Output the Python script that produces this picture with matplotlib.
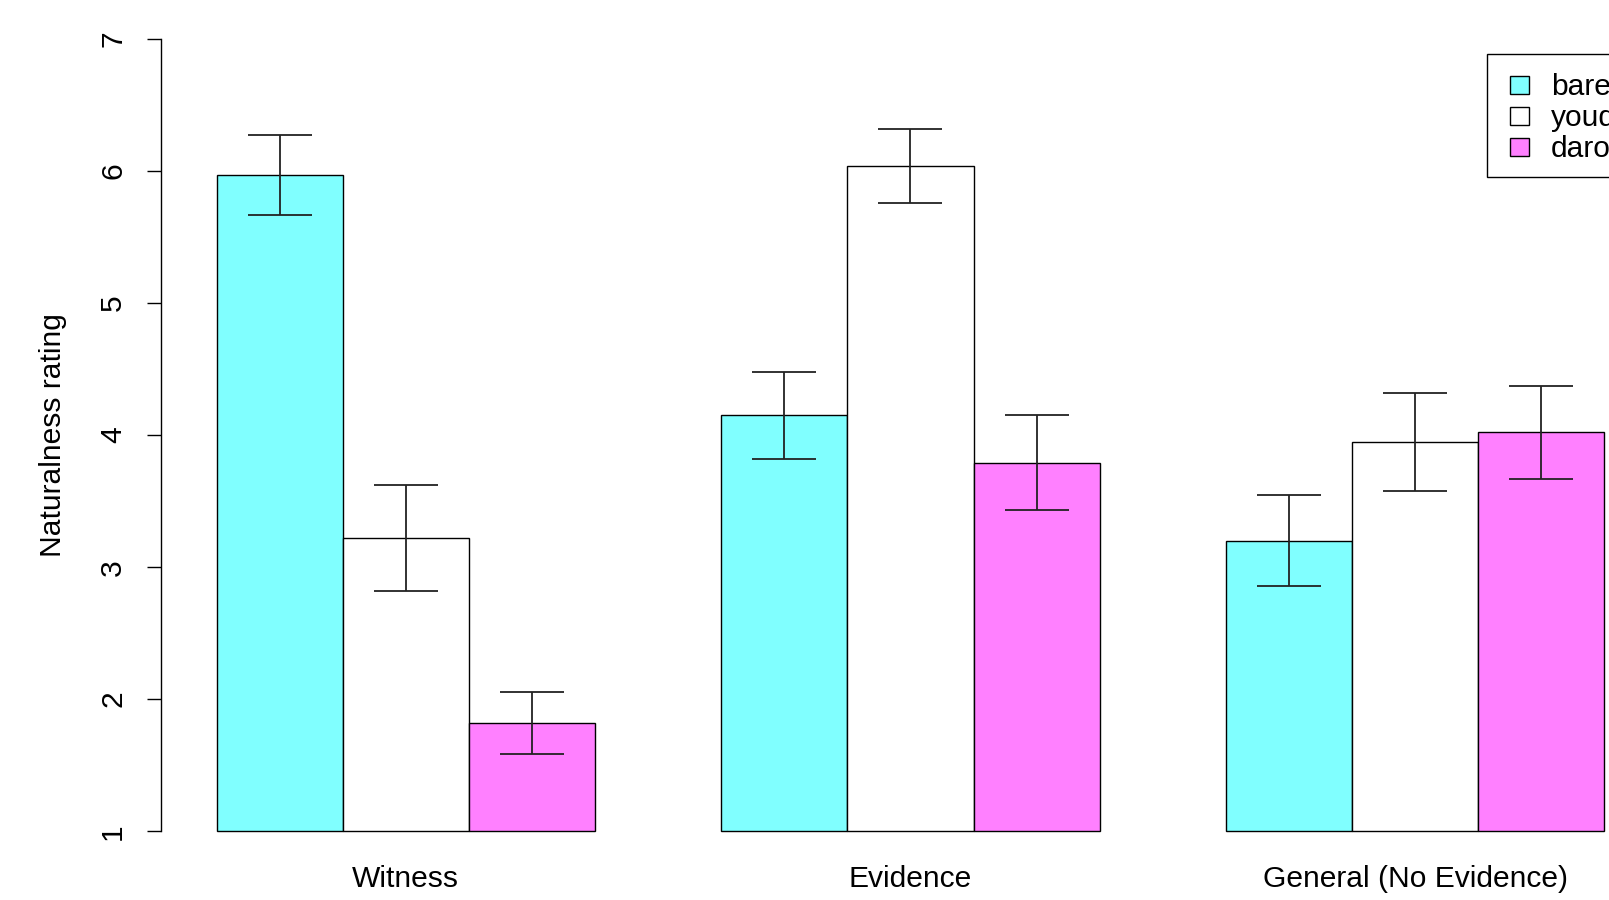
import numpy as np
import matplotlib as mpl
mpl.use("Agg")
import matplotlib.pyplot as plt
from matplotlib.patches import Rectangle

plt.rcParams['font.family'] = ['Liberation Sans', 'DejaVu Sans']

groups = ["Witness", "Evidence", "General (No Evidence)"]
series = ["bare", "youda", "darou"]
colours = ["#80FFFF", "#FFFFFF", "#FF80FF"]

# mean ratings, rows = series, cols = groups
means = np.array([
    [5.97, 4.15, 3.20],
    [3.22, 6.04, 3.95],
    [1.82, 3.79, 4.02],
])
errs = np.array([
    [0.30, 0.33, 0.345],
    [0.40, 0.28, 0.37],
    [0.235, 0.36, 0.355],
])

W, H, dpi = 1609, 900, 100
fs = 21.6
fig = plt.figure(figsize=(W / dpi, H / dpi), dpi=dpi)

# plot region in pixels (R style, 4% padding around the data range)
left_px, right_px = 161, 1660
top_px, bottom_px = 7.3, 862.9
ax = fig.add_axes([left_px / W, 1 - bottom_px / H,
                   (right_px - left_px) / W, (bottom_px - top_px) / H])

nser = len(series)
lefts = np.array([[g * (nser + 1) + 1 + s for g in range(len(groups))]
                  for s in range(nser)], dtype=float)
centres = lefts + 0.5

for s in range(nser):
    ax.bar(lefts[s], means[s] - 1, width=1, bottom=1, align='edge',
           color=colours[s], edgecolor='black', linewidth=1.0, zorder=2)

cap_px = 0.25 * (right_px - left_px) / (lefts.max() + 1 - lefts.min()) / 1.08
ax.errorbar(centres.ravel(), means.ravel(), yerr=errs.ravel(), fmt='none',
            ecolor='#222222', elinewidth=1.3, capthick=1.3,
            capsize=cap_px * 72 / dpi, zorder=3)

lo, hi = lefts.min(), lefts.max() + 1
pad = 0.04 * (hi - lo)
ax.set_xlim(lo - pad, hi + pad)
ax.set_ylim(1 - 0.24, 7 + 0.24)

for sp in ['top', 'right', 'bottom']:
    ax.spines[sp].set_visible(False)
ax.spines['left'].set_bounds(1, 7)
ax.spines['left'].set_linewidth(1.0)

ax.set_yticks(range(1, 8))
ax.tick_params(axis='y', length=10.4, width=1.0, pad=14, labelsize=fs,
               labelrotation=90)
for lab in ax.get_yticklabels():
    lab.set_va('center')

ax.set_xticks(centres[1])
ax.set_xticklabels(groups, fontsize=fs)
ax.tick_params(axis='x', length=0, pad=1.2)

ax.text((53 - left_px) / (right_px - left_px), 0.5, "Naturalness rating",
        transform=ax.transAxes, rotation=90, ha='center', va='center',
        fontsize=fs)

# legend box drawn R style (partly outside the picture)
def fx(x):
    return x / W

def fy(y):
    return 1 - y / H

fig.add_artist(Rectangle((fx(1487), fy(176.5)), fx(1800) - fx(1487),
                         fy(54) - fy(176.5), transform=fig.transFigure,
                         facecolor='white', edgecolor='black', linewidth=1.0))
row_y = [85, 116, 147]
for s in range(nser):
    fig.add_artist(Rectangle((fx(1510), fy(row_y[s] + 9)), 19 / W, 18 / H,
                             transform=fig.transFigure, facecolor=colours[s],
                             edgecolor='black', linewidth=1.0))
    fig.text(fx(1551), fy(row_y[s] + 2), series[s], fontsize=fs, va='center',
             ha='left')

fig.savefig("out.png", dpi=dpi)
